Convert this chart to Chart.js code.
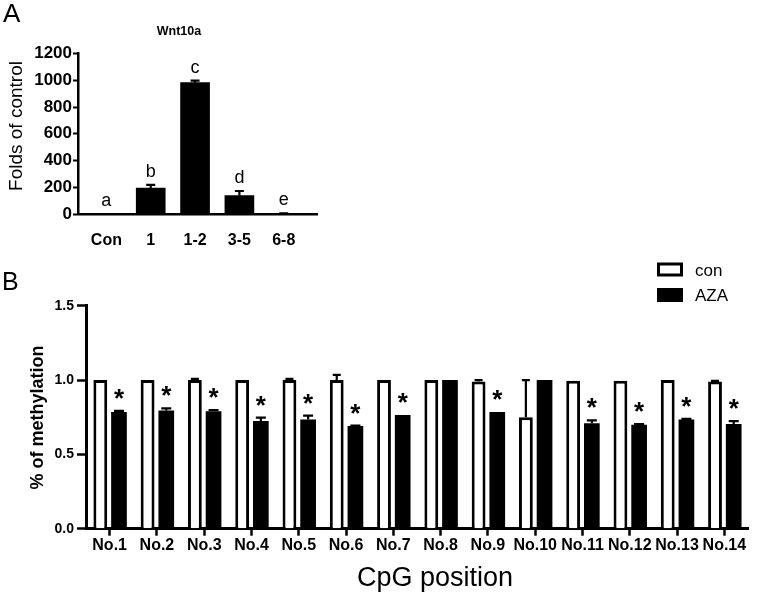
<!DOCTYPE html>
<html>
<head>
<meta charset="utf-8">
<script src="https://cdn.jsdelivr.net/npm/chart.js@4.4.1/dist/chart.umd.min.js"></script>
<style>
  html, body { margin: 0; padding: 0; background: #fff; }
  body { width: 762px; height: 594px; position: relative; overflow: hidden; }
  canvas { position: absolute; left: 0; }
  #chartA { top: 0; }
  #chartB { top: 240px; }
</style>
</head>
<body>
<canvas id="chartA" width="330" height="245"></canvas>
<canvas id="chartB" width="762" height="354"></canvas>
<script>
const FONT = 'Arial, "Liberation Sans", Helvetica, sans-serif';

/* Panel A: Wnt10a expression */
const groupsA = ['Con', '1', '1-2', '3-5', '6-8'];
const foldsA = [1, 193, 982, 137, 3];
const foldsErrA = [0, 25, 15, 35, 2];
const lettersA = ['a', 'b', 'c', 'd', 'e'];
const ticksA = [0, 200, 400, 600, 800, 1000, 1200];

/* Panel B: methylation per CpG position */
const positionsB = ['No.1', 'No.2', 'No.3', 'No.4', 'No.5', 'No.6', 'No.7',
                    'No.8', 'No.9', 'No.10', 'No.11', 'No.12', 'No.13', 'No.14'];
const conB = [1.0, 1.0, 1.0, 1.0, 1.0, 1.0, 1.0, 1.0, 0.99, 0.75, 0.995, 0.995, 1.0, 0.99];
const conErrB = [0, 0, 0.008, 0, 0.008, 0.035, 0, 0, 0.01, 0.25, 0, 0, 0, 0.005];
const azaB = [0.785, 0.795, 0.79, 0.725, 0.735, 0.69, 0.765, 1.0, 0.785, 1.0, 0.71, 0.70, 0.735, 0.705];
const azaErrB = [0.008, 0.015, 0.008, 0.022, 0.025, 0.004, 0, 0, 0, 0, 0.018, 0.004, 0.004, 0.018];
const starsB = [true, true, true, true, true, true, true, false, true, false, true, true, true, true];
const ticksB = [0, 0.5, 1.0, 1.5];

/* error bars (upper half only) and marks above bars */
const barExtras = {
  id: 'barExtras',
  afterDatasetsDraw(chart) {
    const ctx = chart.ctx;
    const yScale = chart.scales.y;
    chart.data.datasets.forEach((ds, di) => {
      const meta = chart.getDatasetMeta(di);
      meta.data.forEach((bar, i) => {
        const val = meta.controller.getParsed(i).y;
        const err = ds.errors ? ds.errors[i] : 0;
        const top = yScale.getPixelForValue(val + err);
        ctx.save();
        if (err > 0) {
          ctx.strokeStyle = '#000';
          ctx.lineWidth = 2.2;
          ctx.beginPath();
          ctx.moveTo(bar.x, bar.y);
          ctx.lineTo(bar.x, top);
          ctx.moveTo(bar.x - ds.capWidth / 2, top);
          ctx.lineTo(bar.x + ds.capWidth / 2, top);
          ctx.stroke();
        }
        const mark = ds.marks ? ds.marks[i] : '';
        if (mark) {
          ctx.fillStyle = '#000';
          ctx.font = ds.markFont;
          ctx.textAlign = 'center';
          ctx.textBaseline = 'alphabetic';
          ctx.fillText(mark, bar.x, top - ds.markGap);
        }
        ctx.restore();
      });
    });
  }
};

/* free text: panel letters, titles, axis titles */
function textPlugin(items) {
  return {
    id: 'freeText',
    afterDraw(chart) {
      const ctx = chart.ctx;
      items.forEach(t => {
        ctx.save();
        ctx.fillStyle = '#000';
        ctx.font = t.font;
        ctx.textAlign = t.align || 'center';
        ctx.textBaseline = t.baseline || 'alphabetic';
        ctx.translate(t.x, t.y);
        if (t.rotate) ctx.rotate(t.rotate);
        ctx.fillText(t.text, 0, 0);
        ctx.restore();
      });
    }
  };
}

/* stacked legend with boxes, like the GraphPad one */
function boxLegend(x, y0, rowGap) {
  return {
    id: 'boxLegend',
    afterDraw(chart) {
      const ctx = chart.ctx;
      chart.data.datasets.forEach((ds, i) => {
        const y = y0 + i * rowGap;
        ctx.save();
        ctx.fillStyle = ds.backgroundColor;
        ctx.fillRect(x, y, 26, 14);
        ctx.lineWidth = 3;
        ctx.strokeStyle = ds.borderColor;
        ctx.strokeRect(x + 1.5, y + 1.5, 23, 11);
        ctx.fillStyle = '#000';
        ctx.font = '17px ' + FONT;
        ctx.textAlign = 'left';
        ctx.textBaseline = 'alphabetic';
        ctx.fillText(ds.label, x + 38, y + 13);
        ctx.restore();
      });
    }
  };
}

/* Panel A chart */
new Chart(document.getElementById('chartA'), {
  type: 'bar',
  data: {
    datasets: [{
      label: 'Wnt10a',
      data: foldsA.map((v, i) => ({ x: i, y: v })),
      errors: foldsErrA,
      marks: lettersA,
      markFont: '18px ' + FONT,
      markGap: 8,
      capWidth: 9,
      backgroundColor: '#000',
      borderWidth: 0,
      barThickness: 29
    }]
  },
  options: {
    responsive: false,
    animation: false,
    layout: { padding: { top: 53.5, right: 13, bottom: 0, left: 0 } },
    plugins: { legend: { display: false }, tooltip: { enabled: false } },
    scales: {
      x: {
        type: 'linear', min: -0.64, max: 4.75, offset: false,
        grid: { display: false },
        border: { color: '#000', width: 2.5 },
        ticks: {
          stepSize: 1, includeBounds: false, autoSkip: false, maxRotation: 0,
          padding: 9, color: '#000',
          font: { family: FONT, size: 16, weight: 'bold' },
          callback: v => groupsA[v]
        },
        afterFit: s => { s.height = 31; }
      },
      y: {
        min: ticksA[0], max: ticksA[ticksA.length - 1],
        grid: { drawOnChartArea: false, tickLength: 5, tickWidth: 2, tickColor: '#000' },
        border: { color: '#000', width: 2.5 },
        ticks: {
          stepSize: ticksA[1] - ticksA[0], padding: 1, color: '#000',
          font: { family: FONT, size: 17, weight: 'bold' },
          callback: v => String(v)
        },
        afterFit: s => { s.width = 78; }
      }
    }
  },
  plugins: [barExtras, textPlugin([
    { text: 'A', x: 3, y: 22, align: 'left', font: '26px ' + FONT },
    { text: 'Wnt10a', x: 179, y: 35, font: 'bold 12.5px ' + FONT },
    { text: 'Folds of control', x: 17, y: 126, rotate: -Math.PI / 2, baseline: 'middle', font: '19px ' + FONT }
  ])]
});

/* Panel B chart */
new Chart(document.getElementById('chartB'), {
  type: 'bar',
  data: {
    labels: positionsB,
    datasets: [{
      label: 'con',
      data: conB,
      errors: conErrB,
      capWidth: 8,
      backgroundColor: '#fff',
      borderColor: '#000',
      borderWidth: 3,
      barPercentage: 0.74,
      categoryPercentage: 0.79
    }, {
      label: 'AZA',
      data: azaB,
      errors: azaErrB,
      marks: starsB.map(s => (s ? '*' : '')),
      markFont: 'bold 26px ' + FONT,
      markGap: 4,
      capWidth: 10,
      backgroundColor: '#000',
      borderColor: '#000',
      borderWidth: 0,
      barPercentage: 0.84,
      categoryPercentage: 0.79
    }]
  },
  options: {
    responsive: false,
    animation: false,
    layout: { padding: { top: 65.7, right: 14, bottom: 0, left: 0 } },
    plugins: { legend: { display: false }, tooltip: { enabled: false } },
    scales: {
      x: {
        grid: { offset: false, drawOnChartArea: false, tickLength: 7, tickWidth: 2.5, tickColor: '#000' },
        border: { color: '#000', width: 3 },
        ticks: {
          autoSkip: false, maxRotation: 0, padding: 0, color: '#000',
          font: { family: FONT, size: 16, weight: 'bold' }
        },
        afterFit: s => { s.height = 65.3; }
      },
      y: {
        min: ticksB[0], max: ticksB[ticksB.length - 1],
        grid: { drawOnChartArea: false, tickLength: 9, tickWidth: 2.5, tickColor: '#000' },
        border: { color: '#000', width: 3 },
        ticks: {
          stepSize: ticksB[1] - ticksB[0], padding: 3, color: '#000',
          font: { family: FONT, size: 14, weight: 'bold' },
          callback: v => v.toFixed(1)
        },
        afterFit: s => { s.width = 86; }
      }
    }
  },
  plugins: [barExtras, boxLegend(657, 22.5, 25.5), textPlugin([
    { text: 'B', x: 2, y: 50, align: 'left', font: '25px ' + FONT },
    { text: '% of methylation', x: 38, y: 177.5, rotate: -Math.PI / 2, baseline: 'middle', font: 'bold 18px ' + FONT },
    { text: 'CpG position', x: 435, y: 345.7, font: '27px ' + FONT }
  ])]
});
</script>
</body>
</html>
